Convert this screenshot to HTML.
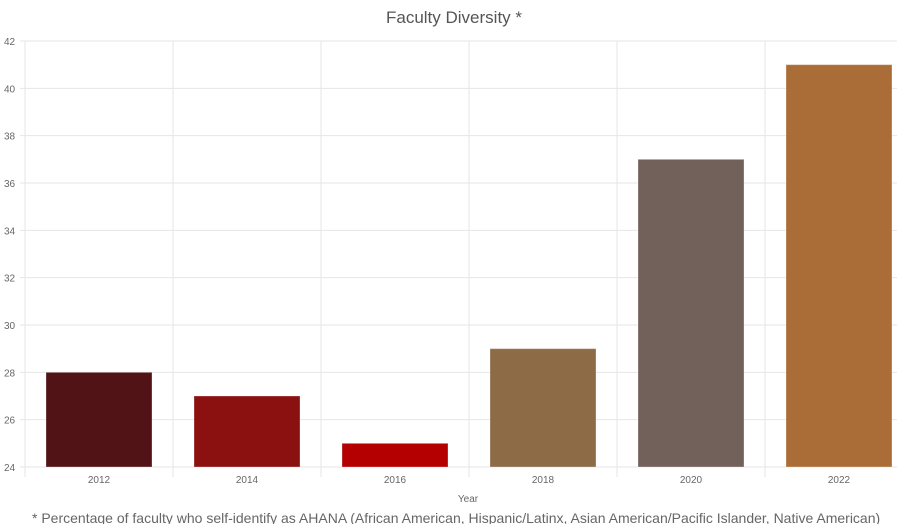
<!DOCTYPE html>
<html><head><meta charset="utf-8"><style>
body{margin:0;background:#fff;width:897px;height:524px;overflow:hidden;font-family:"Liberation Sans",sans-serif}
svg{display:block}
</style></head><body>
<svg id="chart" width="897" height="524">
<text x="454" y="23" text-anchor="middle" font-size="17" fill="#555">Faculty Diversity *</text>
<g id="grid"></g><g id="bars"></g><g id="labels"></g>
<text x="468" y="502" text-anchor="middle" font-size="10" fill="#666">Year</text>
<text x="32" y="523" font-size="14" fill="#666">* Percentage of faculty who self-identify as AHANA (African American, Hispanic/Latinx, Asian American/Pacific Islander, Native American)</text>
</svg>
<script>
const categories=["2012","2014","2016","2018","2020","2022"];
const values=[28,27,25,29,37,41];
const colors=["#521316","#8a1110","#b40000","#8c6b46","#72615a","#ab6d37"];
const yTicks=[24,26,28,30,32,34,36,38,40,42];
const NS="http://www.w3.org/2000/svg";
const x0=25,band=148,yTop=41,yBot=467,yMin=24,yMax=42;
const y=v=>yBot-(v-yMin)/(yMax-yMin)*(yBot-yTop);
const xc=i=>x0+band*i+band/2;
const grid=document.getElementById('grid'),bars=document.getElementById('bars'),labels=document.getElementById('labels');
function mk(tag,a,p){const e=document.createElementNS(NS,tag);for(const k in a)e.setAttribute(k,a[k]);p.appendChild(e);return e;}
yTicks.forEach(t=>{
 const l=mk('line',{x1:x0-5,x2:897,y1:y(t),y2:y(t),stroke:"#e6e6e6"},grid);
 
 
 const tx=mk('text',{x:4,y:y(t)+4,"font-size":10,fill:"#666"},labels);
 tx.textContent=t;
 
 
});
for(let i=0;i<=categories.length;i++){
 const l=mk('line',{x1:x0+band*i,x2:x0+band*i,y1:yTop,y2:yBot+10,stroke:"#e6e6e6"},grid);
 
 
}
categories.forEach((c,i)=>{
 const w=106,top=y(values[i]);
 const r=mk('rect',{x:xc(i)-w/2,y:top,width:w,height:yBot-top,fill:colors[i],stroke:"rgba(255,255,255,0.3)"},bars);
 
 
 const tx=mk('text',{x:xc(i),y:yBot+16,"text-anchor":"middle","font-size":10,fill:"#666"},labels);
 tx.textContent=c;
 
 
});
</script>
</body></html>
